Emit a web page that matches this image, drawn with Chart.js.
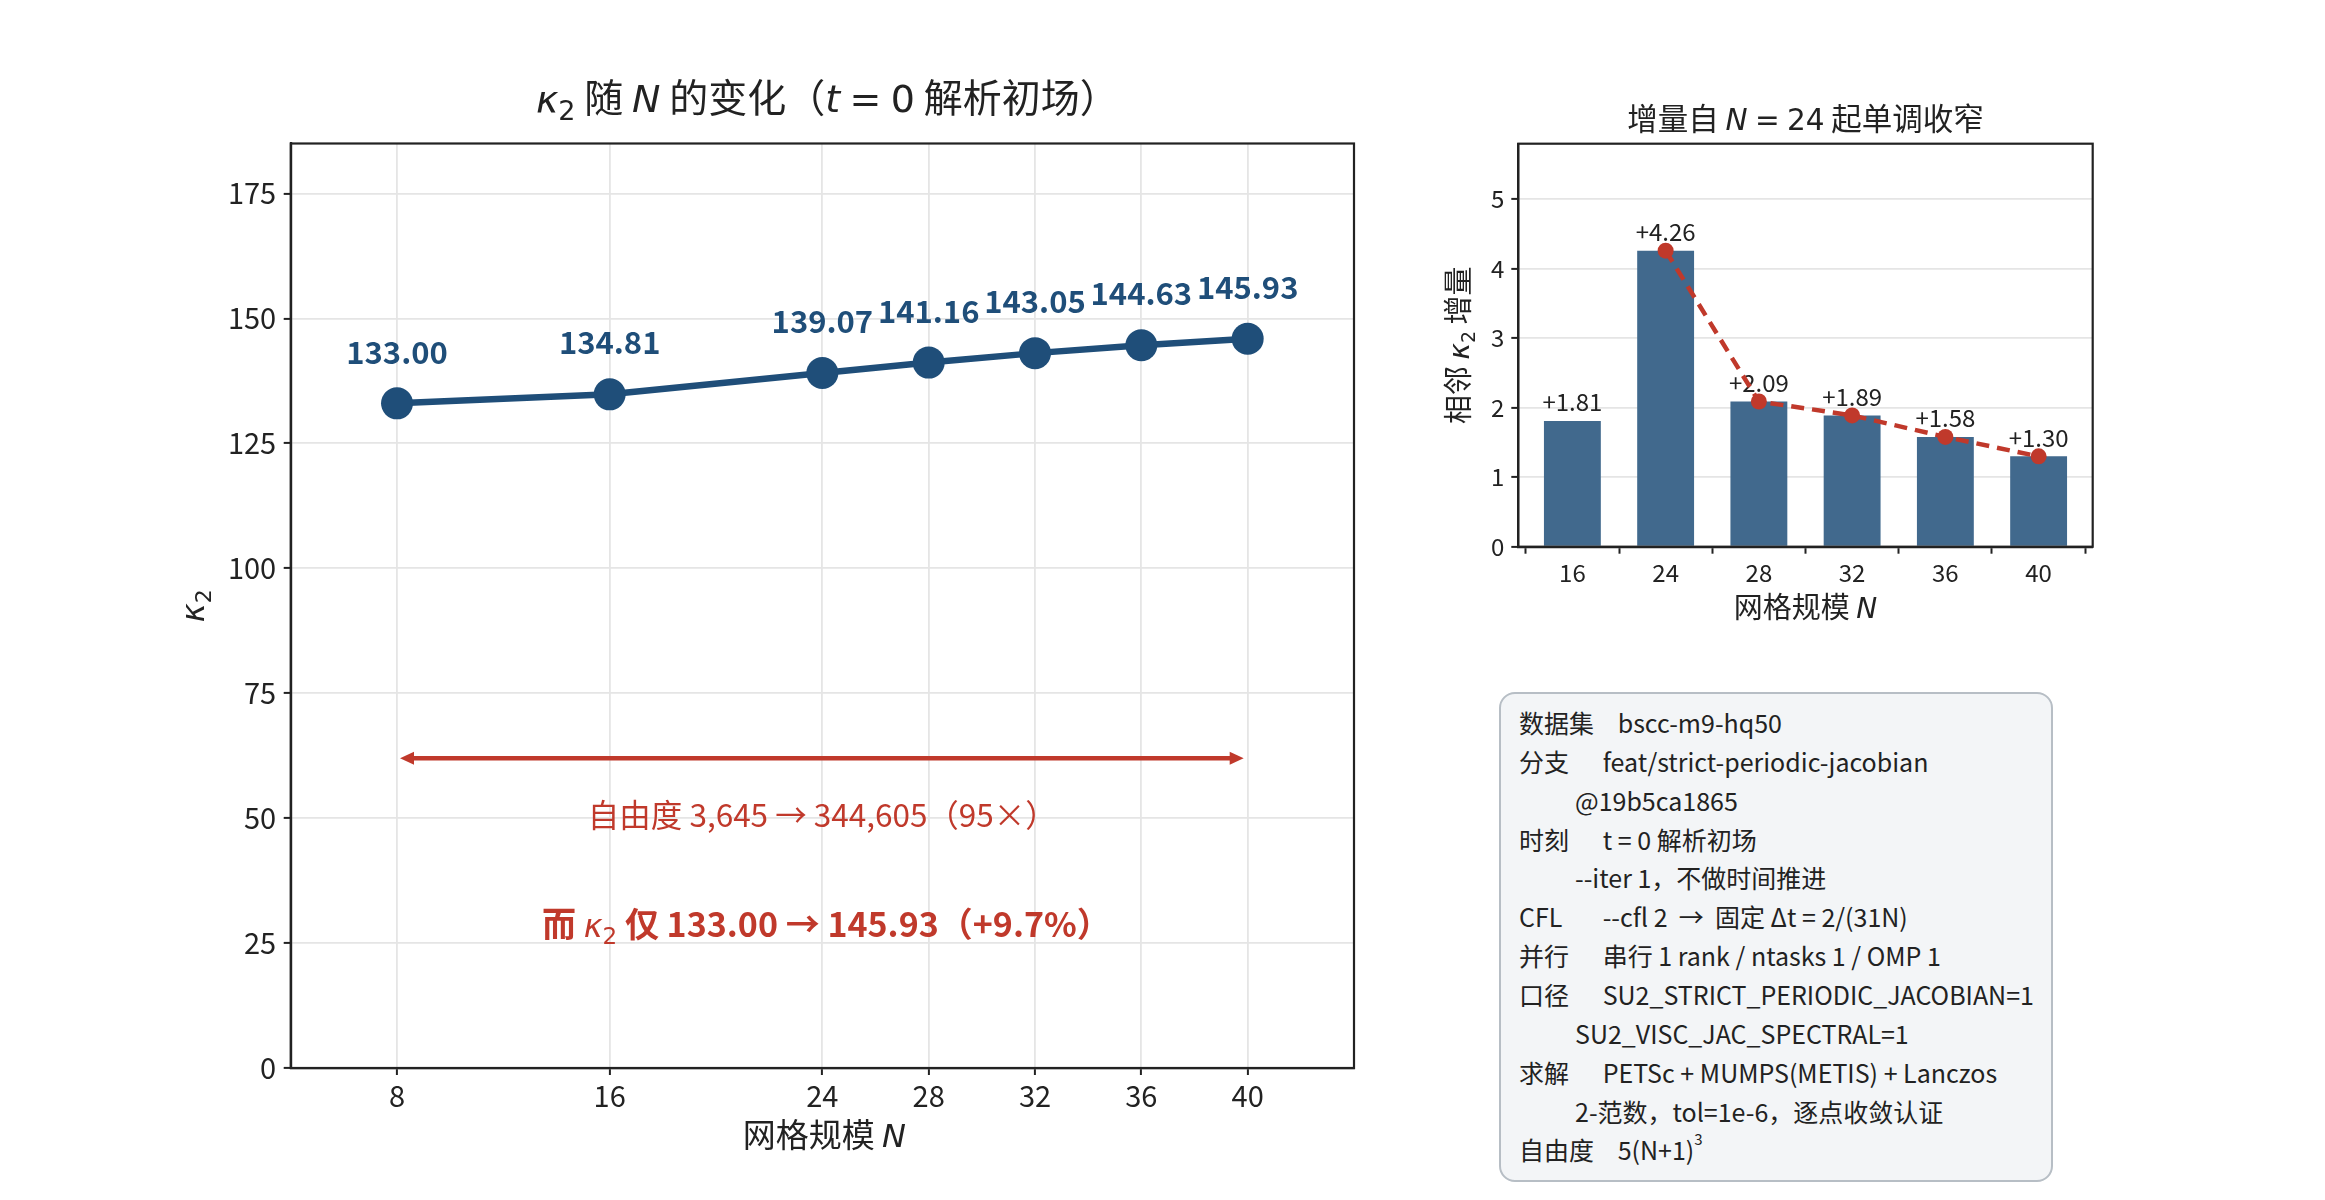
<!DOCTYPE html>
<html><head><meta charset="utf-8">
<script src="https://cdn.jsdelivr.net/npm/chart.js@4.4.1/dist/chart.umd.min.js"></script>
<style>
html,body{margin:0;padding:0;background:#fff;}
#page{position:relative;width:2325px;height:1200px;overflow:hidden;background:#fff;}
#c1{position:absolute;left:0;top:0;width:1400px;height:1200px;}
#c2{position:absolute;left:1400px;top:0;width:925px;height:660px;}
#info{position:absolute;left:1499px;top:692px;width:550px;height:486px;border:2px solid #b7bec5;border-radius:16px;background:#f3f5f7;font-family:'Noto Sans CJK SC','Noto Sans',sans-serif;font-size:25px;color:#222;}
.cell{position:absolute;white-space:nowrap;line-height:26px;height:26px;transform:translateY(-50%);}
sup{font-size:15px;vertical-align:top;line-height:10px;position:relative;top:-2px;}
</style>
</head>
<body>
<div id="page">
<canvas id="c1" width="1400" height="1200"></canvas>
<canvas id="c2" width="925" height="660"></canvas>
<div id="info"></div>
</div>
<script>
// ---------- data ----------
const N_VALUES = [8, 16, 24, 28, 32, 36, 40];
const KAPPA2 = [133.00, 134.81, 139.07, 141.16, 143.05, 144.63, 145.93];
const X_TICKS = [8, 16, 24, 28, 32, 36, 40];
const Y_TICKS = [0, 25, 50, 75, 100, 125, 150, 175];
const INC_N = ['16', '24', '28', '32', '36', '40'];
const INC_VALUES = [1.81, 4.26, 2.09, 1.89, 1.58, 1.30];
const INC_TREND = [null, 4.26, 2.09, 1.89, 1.58, 1.30];
const INC_Y_TICKS = [0, 1, 2, 3, 4, 5];
const DOF_TEXT = '自由度 3,645 → 344,605（95×）';
const SUMMARY_PREFIX = '而 ';
const SUMMARY_SUFFIX = ' 仅 133.00 → 145.93（+9.7%）';
const INFO_ROWS = [
  ['数据集', 'bscc-m9-hq50', 3],
  ['分支', 'feat/strict-periodic-jacobian', 2],
  ['', '@19b5ca1865', 0],
  ['时刻', 't = 0 解析初场', 2],
  ['', '--iter 1，不做时间推进', 0],
  ['CFL', '--cfl 2 &nbsp;→&nbsp; 固定 Δt = 2/(31N)', 2],
  ['并行', '串行 1 rank / ntasks 1 / OMP 1', 2],
  ['口径', 'SU2_STRICT_PERIODIC_JACOBIAN=1', 2],
  ['', 'SU2_VISC_JAC_SPECTRAL=1', 0],
  ['求解', 'PETSc + MUMPS(METIS) + Lanczos', 2],
  ['', '2-范数，tol=1e-6，逐点收敛认证', 0],
  ['自由度', '5(N+1)<sup>3</sup>', 3]
];

// ---------- style ----------
const CJK = "'Noto Sans CJK SC'";
const MATH = "'DejaVu Sans'";
const BLUE = '#1f4e79';
const BAR = '#41698d';
const RED = '#c0392b';
const INK = '#222222';
const GRID = '#e5e5e5';
const TS = '\u2005'; // narrow math space

// rich text helper: segs = [{t, f, dy, c}] ; y is visual center
function rich(ctx, segs, x, yCenter, size, color, align) {
  ctx.save();
  ctx.textBaseline = 'alphabetic';
  ctx.textAlign = 'left';
  let w = 0;
  segs.forEach(s => { ctx.font = s.f; w += ctx.measureText(s.t).width; });
  let cx = align === 'left' ? x : x - w / 2;
  const base = yCenter + 0.36 * size;
  segs.forEach(s => {
    ctx.font = s.f;
    ctx.fillStyle = s.c || color;
    ctx.fillText(s.t, cx, base + (s.dy || 0));
    cx += ctx.measureText(s.t).width;
  });
  ctx.restore();
  return w;
}
function richV(ctx, segs, x, yCenter, size, color) {
  ctx.save();
  ctx.translate(x, yCenter);
  ctx.rotate(-Math.PI / 2);
  rich(ctx, segs, 0, 0, size, color, 'center');
  ctx.restore();
}
function cjk(sz, w) { return (w || '') + ' ' + sz + 'px ' + CJK; }
function mi(sz) { return 'italic ' + sz + 'px ' + MATH; }
function mr(sz) { return sz + 'px ' + MATH; }

const boxPlugin = {
  id: 'box',
  afterDraw(chart) {
    const a = chart.chartArea, ctx = chart.ctx;
    ctx.save();
    ctx.strokeStyle = INK;
    ctx.lineWidth = 2.2;
    ctx.strokeRect(a.left, a.top, a.right - a.left, a.bottom - a.top);
    ctx.restore();
  }
};

// ---------- left chart ----------
const mainPlugin = {
  id: 'mainAnno',
  afterDatasetsDraw(chart) {
    const ctx = chart.ctx, xs = chart.scales.x, ys = chart.scales.y;
    // double-headed arrow spanning the N range
    const y0 = ys.getPixelForValue(62);
    const xa = xs.getPixelForValue(N_VALUES[0]) + 3, xb = xs.getPixelForValue(N_VALUES[N_VALUES.length - 1]) - 4;
    ctx.save();
    ctx.strokeStyle = RED; ctx.fillStyle = RED; ctx.lineWidth = 4.5;
    ctx.beginPath(); ctx.moveTo(xa + 8, y0); ctx.lineTo(xb - 8, y0); ctx.stroke();
    [[xa, 1], [xb, -1]].forEach(([px, d]) => {
      ctx.beginPath();
      ctx.moveTo(px, y0);
      ctx.lineTo(px + d * 14, y0 - 6.5);
      ctx.lineTo(px + d * 14, y0 + 6.5);
      ctx.closePath(); ctx.fill();
    });
    ctx.restore();
    const xc = xs.getPixelForValue((N_VALUES[0] + N_VALUES[N_VALUES.length - 1]) / 2);
    rich(ctx, [{ t: DOF_TEXT, f: cjk(31.5) }], xc, ys.getPixelForValue(50.4), 31.5, RED);
    rich(ctx, [
      { t: SUMMARY_PREFIX, f: cjk(34, 'bold') },
      { t: 'κ', f: mi(32) },
      { t: '2', f: mr(23), dy: 7 },
      { t: SUMMARY_SUFFIX, f: cjk(34, 'bold') }
    ], xc + 4, ys.getPixelForValue(28.7), 34, RED);
    // value labels
    const meta = chart.getDatasetMeta(0);
    meta.data.forEach((pt, i) => {
      rich(ctx, [{ t: KAPPA2[i].toFixed(2), f: cjk(31, 'bold') }], pt.x, pt.y - 51, 31, BLUE);
    });
  },
  afterDraw(chart) {
    const ctx = chart.ctx, a = chart.chartArea;
    const cx = (a.left + a.right) / 2 + 5;
    rich(ctx, [
      { t: 'κ', f: mi(38) },
      { t: '2', f: mr(27), dy: 8 },
      { t: ' 随 ', f: cjk(39) },
      { t: 'N', f: mi(38) },
      { t: ' 的变化（', f: cjk(39) },
      { t: 't', f: mi(38) },
      { t: TS + '=' + TS + '0', f: mr(38) },
      { t: ' 解析初场）', f: cjk(39) }
    ], cx, 98, 39, INK);
    rich(ctx, [
      { t: '网格规模 ', f: cjk(33) },
      { t: 'N', f: mi(32) }
    ], cx - 3, 1135, 33, INK);
    richV(ctx, [
      { t: 'κ', f: mi(32) },
      { t: '2', f: mr(22), dy: 7 }
    ], 192, (a.top + a.bottom) / 2, 32, INK);
  }
};

new Chart(document.getElementById('c1'), {
  type: 'line',
  data: {
    datasets: [{
      data: N_VALUES.map((n, i) => ({ x: n, y: KAPPA2[i] })),
      borderColor: BLUE, backgroundColor: BLUE, borderWidth: 6.5,
      pointRadius: 16, pointHoverRadius: 16, pointBackgroundColor: BLUE,
      pointBorderColor: BLUE, pointBorderWidth: 0, tension: 0
    }]
  },
  options: {
    responsive: false, animation: false, events: [], devicePixelRatio: 1,
    layout: { padding: { left: 190.7, right: 46, top: 143.5, bottom: 72 } },
    plugins: { legend: { display: false }, tooltip: { enabled: false }, title: { display: false } },
    scales: {
      x: {
        type: 'linear', min: 4, max: 44,
        afterBuildTicks: s => { s.ticks = X_TICKS.map(v => ({ value: v })); },
        afterFit: s => { s.height = 60; },
        grid: { color: GRID, lineWidth: 1.8, tickColor: INK, tickLength: 7, drawTicks: true, tickWidth: 2 },
        border: { display: true, color: INK, width: 2.2 },
        ticks: { font: { family: CJK, size: 29 }, color: INK, padding: 4, maxRotation: 0, autoSkip: false }
      },
      y: {
        min: 0, max: 185,
        afterBuildTicks: s => { s.ticks = Y_TICKS.map(v => ({ value: v })); },
        afterFit: s => { s.width = 100; },
        grid: { color: GRID, lineWidth: 1.8, tickColor: INK, tickLength: 7, drawTicks: true, tickWidth: 2 },
        border: { display: true, color: INK, width: 2.2 },
        ticks: { font: { family: CJK, size: 29 }, color: INK, padding: 7.5, autoSkip: false }
      }
    }
  },
  plugins: [boxPlugin, mainPlugin]
});

// ---------- right chart ----------
const incPlugin = {
  id: 'incAnno',
  afterDatasetDraw(chart, args) {
    if (args.index !== 0) return;
    const ctx = chart.ctx;
    args.meta.data.forEach((bar, i) => {
      rich(ctx, [{ t: '+' + INC_VALUES[i].toFixed(2), f: cjk(24) }], bar.x, bar.y - 18.5, 24, INK);
    });
  },
  afterDraw(chart) {
    const ctx = chart.ctx, a = chart.chartArea;
    const cx = (a.left + a.right) / 2;
    rich(ctx, [
      { t: '增量自 ', f: cjk(30.5) },
      { t: 'N', f: mi(29.5) },
      { t: TS + '=' + TS + '24', f: mr(29.5) },
      { t: ' 起单调收窄', f: cjk(30.5) }
    ], cx, 119, 30.5, INK);
    rich(ctx, [
      { t: '网格规模 ', f: cjk(29) },
      { t: 'N', f: mi(28) }
    ], cx, 608, 29, INK);
    richV(ctx, [
      { t: '相邻 ', f: cjk(29) },
      { t: 'κ', f: mi(28) },
      { t: '2', f: mr(19), dy: 6 },
      { t: ' 增量', f: cjk(29) }
    ], 59, (a.top + a.bottom) / 2, 29, INK);
  }
};

new Chart(document.getElementById('c2'), {
  data: {
    datasets: [
      {
        type: 'bar', order: 2,
        data: INC_VALUES.map((v, i) => ({ x: i, y: v })),
        backgroundColor: BAR, borderWidth: 0, barPercentage: 0.61, categoryPercentage: 1.0
      },
      {
        type: 'line', order: 1,
        data: INC_TREND.map((v, i) => ({ x: i, y: v })),
        borderColor: RED, backgroundColor: RED, borderWidth: 4.5, borderDash: [13, 8],
        pointRadius: 8, pointHoverRadius: 8, pointBackgroundColor: RED, pointBorderWidth: 0,
        tension: 0, spanGaps: false
      }
    ]
  },
  options: {
    responsive: false, animation: false, events: [], devicePixelRatio: 1,
    layout: { padding: { left: 78.3, right: 232.3, top: 143.7, bottom: 63.3 } },
    plugins: { legend: { display: false }, tooltip: { enabled: false }, title: { display: false } },
    scales: {
      x: {
        type: 'linear', min: -0.58, max: 5.58, offset: false,
        afterBuildTicks: s => { s.ticks = INC_N.map((_, i) => ({ value: i })); },
        afterFit: s => { s.height = 50; },
        grid: { color: 'rgba(0,0,0,0)', tickColor: INK, tickLength: 7, drawTicks: true, tickWidth: 2 },
        border: { display: true, color: INK, width: 2.2 },
        ticks: { font: { family: CJK, size: 24 }, color: INK, padding: 4.5, maxRotation: 0, autoSkip: false,
          callback: v => INC_N[v] }
      },
      y: {
        min: 0, max: 5.8,
        afterBuildTicks: s => { s.ticks = INC_Y_TICKS.map(v => ({ value: v })); },
        afterFit: s => { s.width = 40; },
        grid: { color: GRID, lineWidth: 1.8, tickColor: INK, tickLength: 7, drawTicks: true, tickWidth: 2 },
        border: { display: true, color: INK, width: 2.2 },
        ticks: { font: { family: CJK, size: 24 }, color: INK, padding: 7, autoSkip: false }
      }
    }
  },
  plugins: [boxPlugin, incPlugin]
});

// ---------- info box ----------
const info = document.getElementById('info');
const ROW_Y0 = 28, ROW_DY = 38.85;
INFO_ROWS.forEach((r, i) => {
  const y = ROW_Y0 + i * ROW_DY;
  if (r[0]) {
    const l = document.createElement('div');
    l.className = 'cell'; l.style.left = '18px'; l.style.top = y + 'px';
    l.textContent = r[0]; info.appendChild(l);
  }
  const v = document.createElement('div');
  v.className = 'cell';
  v.style.left = (r[2] === 3 ? 116.7 : r[2] === 2 ? 101.7 : 74) + 'px';
  v.style.top = y + 'px';
  v.innerHTML = r[1]; info.appendChild(v);
});
</script>
</body></html>
